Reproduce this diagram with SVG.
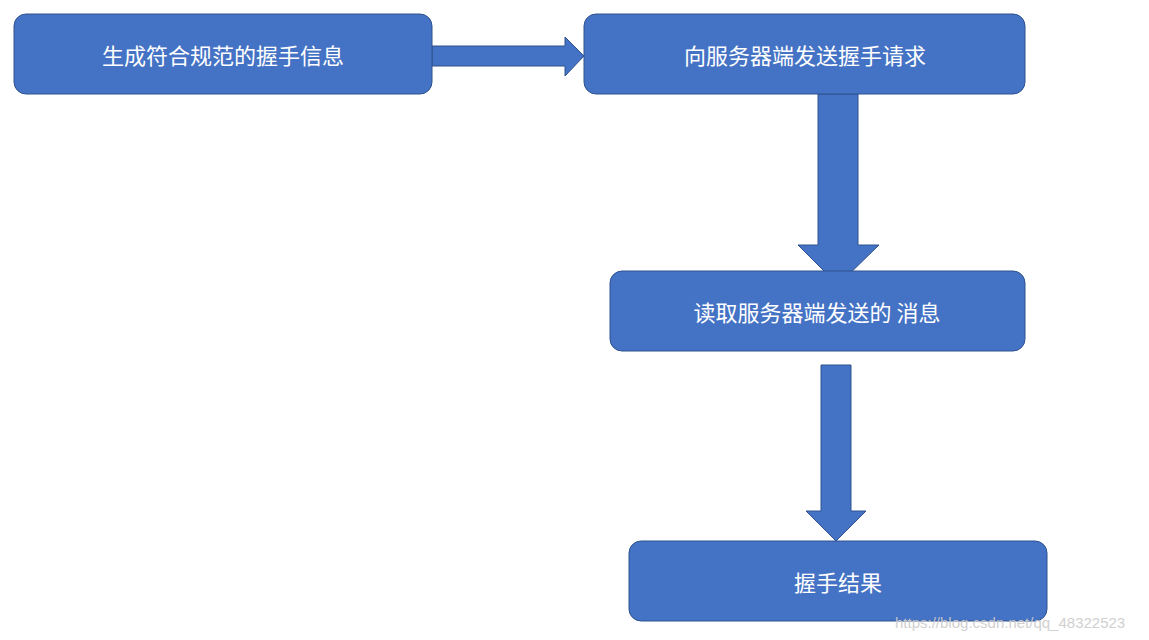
<svg xmlns="http://www.w3.org/2000/svg" width="1149" height="640" viewBox="0 0 1149 640">
<style>
.box{fill:#4472C4;stroke:#2F528F;stroke-width:1}
.lbl{fill:#fff;font-family:"Noto Sans CJK SC","Noto Sans",sans-serif;font-size:22px;text-anchor:middle;dominant-baseline:central}
.arr{fill:#4472C4;stroke:#2F528F;stroke-width:1}
</style>
<rect width="1149" height="640" fill="#fff"/>
<g id="connectors">
<polygon class="arr" points="432,46 565,46 565,37 584,56 565,76 565,66 432,66"/>
<polygon class="arr" points="818,94 858,94 858,245 879,245 838,285 798,245 818,245"/>
<polygon class="arr" points="821,365 851,365 851,511 866,511 836,541 806,511 821,511"/>
</g>
<g id="n1"><rect class="box" x="14" y="14" width="418" height="80" rx="12"/><text class="lbl" x="223" y="54">生成符合规范的握手信息</text></g>
<g id="n2"><rect class="box" x="584" y="14" width="441" height="80" rx="12"/><text class="lbl" x="805" y="54">向服务器端发送握手请求</text></g>
<g id="n3"><rect class="box" x="610" y="271" width="415" height="80" rx="12"/><text class="lbl" x="817" y="311">读取服务器端发送的 消息</text></g>
<g id="n4"><rect class="box" x="629" y="541" width="418" height="80" rx="12"/><text class="lbl" x="838" y="581">握手结果</text></g>
<text x="895" y="628" font-family="Liberation Sans,sans-serif" font-size="15" fill="#ccc" opacity="0.9">https://blog.csdn.net/qq_48322523</text>
</svg>
